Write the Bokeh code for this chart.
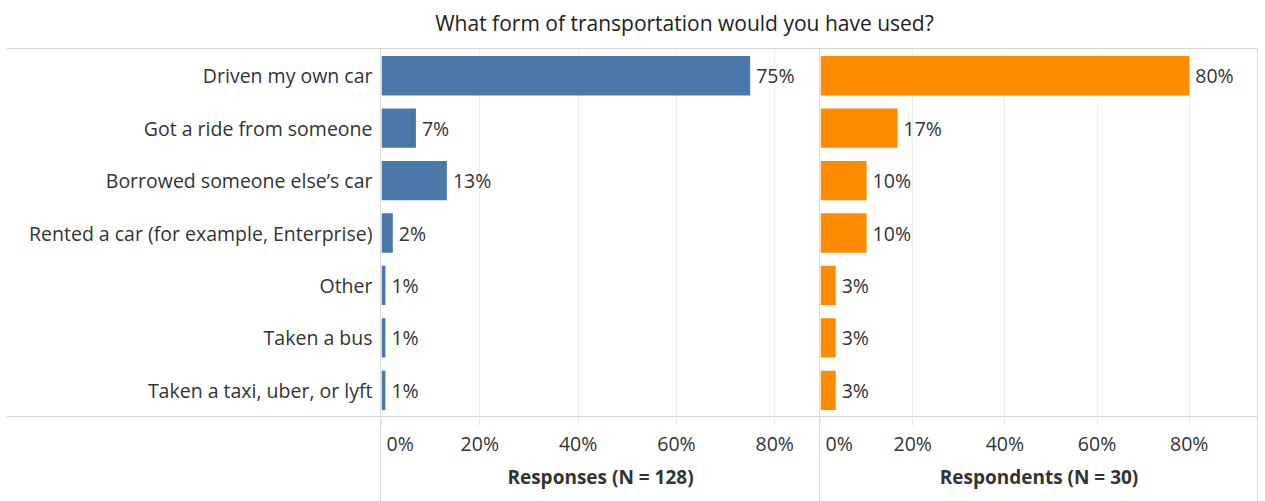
from bokeh.plotting import figure
from bokeh.models import (Range1d, FactorRange, FixedTicker, Grid, LinearAxis, Label,
                          Div, Spacer, ColumnDataSource)
from bokeh.layouts import column, row
from bokeh.embed import file_html
from bokeh.resources import INLINE
from bokeh.core.properties import value

# ---------------- data ----------------
title_text = "What form of transportation would you have used?"
categories = [
    "Driven my own car",
    "Got a ride from someone",
    "Borrowed someone else\u2019s car",
    "Rented a car (for example, Enterprise)",
    "Other",
    "Taken a bus",
    "Taken a taxi, uber, or lyft",
]
responses = [75.0, 7.0, 13.3, 2.3, 0.8, 0.8, 0.8]        # % of responses (N = 128)
respondents = [80.0, 16.7, 10.0, 10.0, 3.3, 3.3, 3.3]    # % of respondents (N = 30)
axis_ticks = [0, 20, 40, 60, 80]
tick_labels = ["0%", "20%", "40%", "60%", "80%"]
panel_titles = ["Responses (N = 128)", "Respondents (N = 30)"]

# ---------------- style ----------------
FONT = "Open Sans"
FS = "19.5px"
TXT = "#333333"
BLUE = "#4A78A8"
ORANGE = "#FF8C00"
HLINE = "#d4d4d4"
VLINE = "#dddddd"
GRID = "#efefef"

W = 1265
HDR_H = 48
MAIN_H = 367
AX_H = 84
LAB_W = 380
P1_W = 438
P2_W = 437
RIGHT_PAD = 7


def blank(w, h):
    return Spacer(width=w, height=h, margin=0)


def line_div(w, h, color):
    return Div(text="", width=w, height=h, margin=0,
               styles={"background-color": color})


def base_fig(**kw):
    return figure(toolbar_location=None, output_backend="svg",
                  outline_line_color=None, background_fill_color="white",
                  border_fill_color="white", margin=0, **kw)


# header with title
hdr = base_fig(width=W, height=HDR_H, x_range=Range1d(0, 1), y_range=Range1d(0, 1),
               x_axis_type=None, y_axis_type=None, min_border=0)
hdr.add_layout(Label(x=684, y=26, x_units="screen", y_units="screen", text=title_text,
                     text_align="center", text_baseline="middle", text_font=FONT,
                     text_font_size="21px", text_color="#222222"))

yr = FactorRange(factors=categories[::-1])

# category label column
lab = base_fig(width=LAB_W, height=MAIN_H, y_range=yr, x_range=Range1d(0, 1),
               x_axis_type=None, min_border_left=LAB_W - 1, min_border_right=0,
               min_border_top=0, min_border_bottom=0)
lab.ygrid.visible = False
yax = lab.yaxis[0]
yax.axis_line_color = None
yax.major_tick_line_color = None
yax.minor_tick_line_color = None
yax.major_tick_out = 0
yax.major_tick_in = 0
yax.major_label_standoff = 7
yax.major_label_text_font = FONT
yax.major_label_text_font_size = FS
yax.major_label_text_color = TXT


def panel(vals, color, xmax, width):
    p = base_fig(width=width, height=MAIN_H, y_range=yr, x_range=Range1d(0, xmax),
                 x_axis_type=None, y_axis_type=None, min_border=0)
    p.add_layout(Grid(dimension=0, ticker=FixedTicker(ticks=axis_ticks[1:]),
                      grid_line_color=GRID))
    src = ColumnDataSource(dict(cat=categories, val=vals,
                                lab=[f"{round(v)}%" for v in vals]))
    p.hbar(y="cat", left=0, right="val", height=0.75, source=src,
           fill_color=color, line_color=None)
    p.text(x="val", y="cat", text="lab", source=src, x_offset=6,
           text_align="left", text_baseline="middle", text_font=value(FONT),
           text_font_size=FS, text_color=TXT)
    return p


p1 = panel(responses, BLUE, 89.1, P1_W)
p2 = panel(respondents, ORANGE, 94.8, P2_W)


def axis_fig(xr, width, title):
    a = base_fig(width=width, height=AX_H, x_range=xr, y_range=Range1d(0, 1),
                 x_axis_type=None, y_axis_type=None, min_border_left=0,
                 min_border_right=0, min_border_top=0, min_border_bottom=AX_H - 1)
    ax = LinearAxis(ticker=FixedTicker(ticks=axis_ticks), axis_label=title)
    over = {t: l for t, l in zip(axis_ticks, tick_labels)}
    over[axis_ticks[0]] = "\u00a0" + tick_labels[0]
    ax.major_label_overrides = over
    ax.axis_line_color = None
    ax.major_tick_out = 7
    ax.major_tick_in = 0
    ax.major_tick_line_color = "#e8e8e8"
    ax.minor_tick_line_color = None
    ax.major_label_standoff = 4
    ax.major_label_text_font = FONT
    ax.major_label_text_font_size = FS
    ax.major_label_text_color = TXT
    ax.axis_label_standoff = 4
    ax.axis_label_text_font = FONT
    ax.axis_label_text_font_size = "19px"
    ax.axis_label_text_font_style = "bold"
    ax.axis_label_text_color = TXT
    a.add_layout(ax, "below")
    return a


a1 = axis_fig(p1.x_range, P1_W, panel_titles[0])
a2 = axis_fig(p2.x_range, P2_W, panel_titles[1])

LINE_W = W - 2 * RIGHT_PAD

layout = column(
    hdr,
    row(blank(RIGHT_PAD, 1), line_div(LINE_W, 1, HLINE), blank(RIGHT_PAD, 1), spacing=0),
    row(lab, line_div(1, MAIN_H, VLINE), p1, line_div(1, MAIN_H, VLINE), p2,
        line_div(1, MAIN_H, VLINE), blank(RIGHT_PAD - 1, MAIN_H), spacing=0),
    row(blank(RIGHT_PAD, 1), line_div(LINE_W, 1, HLINE), blank(RIGHT_PAD, 1), spacing=0),
    row(blank(LAB_W, AX_H), line_div(1, AX_H, VLINE), a1, line_div(1, AX_H, VLINE), a2,
        line_div(1, AX_H, VLINE), blank(RIGHT_PAD - 1, AX_H), spacing=0),
    spacing=0,
)

open("out.html", "w").write(file_html(layout, INLINE))
